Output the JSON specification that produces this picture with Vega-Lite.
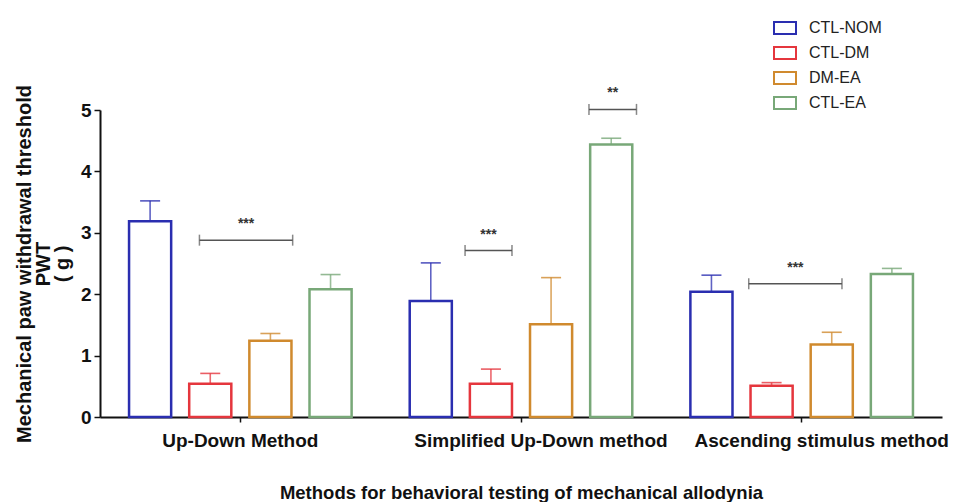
{
  "$schema": "https://vega.github.io/schema/vega-lite/v6.json",
  "width": 842,
  "height": 307,
  "autosize": {"type": "none"},
  "padding": {"left": 100, "top": 110, "right": 18, "bottom": 85},
  "background": "white",
  "config": {
    "font": "Liberation Sans",
    "view": {"stroke": null}
  },
  "datasets": {
    "bars": [
      {"method": "Up-Down Method", "group": "CTL-NOM", "mean": 3.19, "upper": 3.52},
      {"method": "Up-Down Method", "group": "CTL-DM", "mean": 0.54, "upper": 0.71},
      {"method": "Up-Down Method", "group": "DM-EA", "mean": 1.24, "upper": 1.36},
      {"method": "Up-Down Method", "group": "CTL-EA", "mean": 2.08, "upper": 2.32},
      {"method": "Simplified Up-Down method", "group": "CTL-NOM", "mean": 1.89, "upper": 2.51},
      {"method": "Simplified Up-Down method", "group": "CTL-DM", "mean": 0.54, "upper": 0.78},
      {"method": "Simplified Up-Down method", "group": "DM-EA", "mean": 1.51, "upper": 2.27},
      {"method": "Simplified Up-Down method", "group": "CTL-EA", "mean": 4.44, "upper": 4.54},
      {"method": "Ascending stimulus method", "group": "CTL-NOM", "mean": 2.04, "upper": 2.31},
      {"method": "Ascending stimulus method", "group": "CTL-DM", "mean": 0.51, "upper": 0.56},
      {"method": "Ascending stimulus method", "group": "DM-EA", "mean": 1.18, "upper": 1.38},
      {"method": "Ascending stimulus method", "group": "CTL-EA", "mean": 2.33, "upper": 2.42}
    ],
    "brackets": [
      {"method": "Up-Down Method", "id": "b1", "from": 1.32, "to": 2.87, "level": 2.88, "label": "***"},
      {"method": "Simplified Up-Down method", "id": "b2", "from": 1.07, "to": 1.85, "level": 2.71, "label": "***"},
      {"method": "Simplified Up-Down method", "id": "b3", "from": 3.13, "to": 3.92, "level": 5.01, "label": "**"},
      {"method": "Ascending stimulus method", "id": "b4", "from": 1.12, "to": 2.67, "level": 2.17, "label": "***"}
    ]
  },
  "resolve": {"scale": {"xOffset": "independent", "stroke": "independent"}},
  "layer": [
    {
      "data": {"name": "bars"},
      "layer": [
        {
          "mark": {"type": "bar", "fill": "white", "fillOpacity": 1},
          "encoding": {
            "x": {
              "field": "method", "type": "nominal", "sort": null,
              "scale": {"paddingInner": 0, "paddingOuter": 0},
              "axis": {
                "title": "Methods for behavioral testing of mechanical allodynia",
                "titleFontSize": 18.5, "titleFontWeight": "bold", "titleColor": "#111",
                "titlePadding": 33,
                "labelAngle": 0, "labelAlign": "center", "labelLimit": 500, "labelOverlap": false, "labelBound": false,
                "labelFontSize": 19, "labelFontWeight": "bold", "labelColor": "#111",
                "labelPadding": 9,
                "labelOffset": {"condition": {"test": "datum.value === 'Up-Down Method'", "value": 0}, "value": 20},
                "domainColor": "#111", "domainWidth": 2,
                "tickColor": "#111", "tickWidth": 1.5, "tickSize": 5
              }
            },
            "xOffset": {
              "field": "group", "type": "nominal", "sort": ["CTL-NOM", "CTL-DM", "DM-EA", "CTL-EA"],
              "scale": {"paddingInner": 0.3, "paddingOuter": 0.483}
            },
            "y": {
              "field": "mean", "type": "quantitative",
              "scale": {"domain": [0, 5], "nice": false},
              "axis": {
                "title": ["Mechanical paw withdrawal threshold", "PWT", "( g )"],
                "titleFontSize": 20, "titleFontWeight": "bold", "titleColor": "#111",
                "titleLineHeight": 19, "titlePadding": 8,
                "values": [0, 0.5, 1, 1.5, 2, 2.5, 3, 3.5, 4, 4.5, 5],
                "labelExpr": "datum.value % 1 === 0 ? format(datum.value, 'd') : ''",
                "labelFontSize": 19, "labelFontWeight": "bold", "labelColor": "#111",
                "labelPadding": 3,
                "grid": false,
                "domainColor": "#111", "domainWidth": 2,
                "tickColor": "#111", "tickWidth": 1.5,
                "tickSize": {"condition": {"test": "datum.value % 1 !== 0", "value": 4}, "value": 6}
              }
            },
            "stroke": {
              "field": "group", "type": "nominal",
              "scale": {
                "domain": ["CTL-NOM", "CTL-DM", "DM-EA", "CTL-EA"],
                "range": ["#2a2eb0", "#e5363d", "#d08a2e", "#78a878"]
              },
              "legend": null
            },
            "strokeWidth": {
              "field": "group", "type": "nominal",
              "scale": {"domain": ["CTL-NOM", "CTL-DM", "DM-EA", "CTL-EA"], "range": [2.5, 2.5, 2.5, 1.6]},
              "legend": null
            }
          }
        },
        {
          "mark": {"type": "rule", "strokeWidth": 1.6, "opacity": 0.75},
          "encoding": {
            "x": {"field": "method", "type": "nominal", "sort": null},
            "xOffset": {"field": "group", "type": "nominal", "sort": ["CTL-NOM", "CTL-DM", "DM-EA", "CTL-EA"]},
            "y": {"field": "mean", "type": "quantitative"},
            "y2": {"field": "upper"},
            "stroke": {"field": "group", "type": "nominal", "legend": null}
          }
        },
        {
          "mark": {"type": "tick", "size": 20, "thickness": 1.6, "opacity": 0.8},
          "encoding": {
            "x": {"field": "method", "type": "nominal", "sort": null},
            "xOffset": {"field": "group", "type": "nominal", "sort": ["CTL-NOM", "CTL-DM", "DM-EA", "CTL-EA"]},
            "y": {"field": "upper", "type": "quantitative"},
            "color": {
              "field": "group", "type": "nominal", "legend": null,
              "scale": {
                "domain": ["CTL-NOM", "CTL-DM", "DM-EA", "CTL-EA"],
                "range": ["#2a2eb0", "#e5363d", "#d08a2e", "#78a878"]
              }
            }
          }
        }
      ]
    },
    {
      "data": {"name": "brackets"},
      "transform": [
        {"fold": ["from", "to"], "as": ["end", "pos"]}
      ],
      "layer": [
        {
          "mark": {"type": "line", "color": "#555", "strokeWidth": 1.5},
          "encoding": {
            "x": {"field": "method", "type": "nominal", "sort": null, "bandPosition": 0},
            "xOffset": {"field": "pos", "type": "quantitative", "scale": {"domain": [-0.333, 4.333]}},
            "y": {"field": "level", "type": "quantitative"},
            "detail": {"field": "id"}
          }
        },
        {
          "mark": {"type": "tick", "orient": "vertical", "size": 11, "thickness": 1.5, "color": "#555"},
          "encoding": {
            "x": {"field": "method", "type": "nominal", "sort": null, "bandPosition": 0},
            "xOffset": {"field": "pos", "type": "quantitative", "scale": {"domain": [-0.333, 4.333]}},
            "y": {"field": "level", "type": "quantitative"}
          }
        }
      ]
    },
    {
      "data": {"name": "brackets"},
      "transform": [
        {"calculate": "(datum.from + datum.to) / 2", "as": "mid"}
      ],
      "mark": {"type": "text", "fontSize": 14, "fontWeight": "bold", "color": "#333", "baseline": "middle", "dy": -16},
      "encoding": {
        "x": {"field": "method", "type": "nominal", "sort": null, "bandPosition": 0},
        "xOffset": {"field": "mid", "type": "quantitative", "scale": {"domain": [-0.333, 4.333]}},
        "y": {"field": "level", "type": "quantitative"},
        "text": {"field": "label"}
      }
    },
    {
      "data": {"name": "bars"},
      "mark": {"type": "point", "filled": false, "opacity": 0, "strokeWidth": 2},
      "encoding": {
        "x": {"field": "method", "type": "nominal", "sort": null},
        "y": {"field": "mean", "type": "quantitative"},
        "stroke": {
          "field": "group", "type": "nominal",
          "scale": {
            "domain": ["CTL-NOM", "CTL-DM", "DM-EA", "CTL-EA"],
            "range": ["#2a2eb0", "#e5363d", "#d08a2e", "#78a878"]
          },
          "legend": {
            "title": null,
            "orient": "none",
            "legendX": 673,
            "legendY": -94,
            "symbolType": "M-1,-0.55H1V0.55H-1Z",
            "symbolSize": 484,
            "symbolFillColor": "white",
            "symbolStrokeWidth": 2,
            "symbolOpacity": 1,
            "labelFontSize": 16,
            "labelColor": "#222",
            "labelOffset": 12,
            "rowPadding": 2
          }
        }
      }
    }
  ]
}
